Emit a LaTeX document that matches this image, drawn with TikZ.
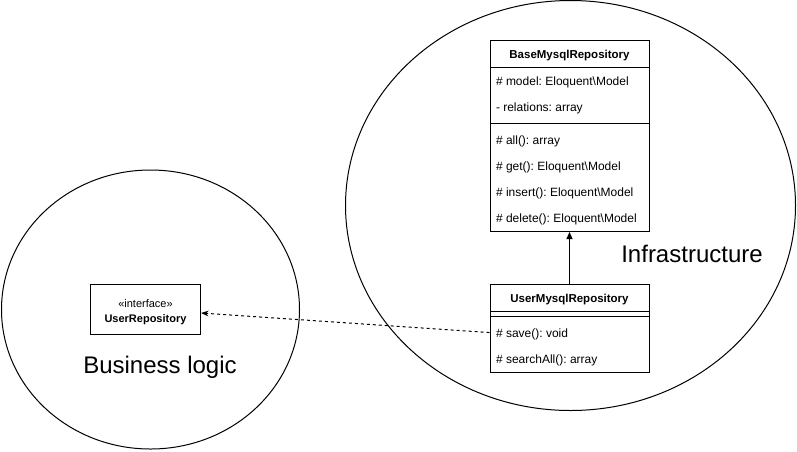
\documentclass[tikz,border=0pt]{standalone}
\usepackage{fontspec}
\setmainfont{Liberation Sans}
\usepackage{tikz}
\usetikzlibrary{arrows.meta,positioning,shapes.multipart}
\frenchspacing
\newcommand{\headrow}[1]{\rule[-7pt]{0pt}{22pt}\textbf{#1}}
\newcommand{\fieldrow}{\rule[-10pt]{0pt}{25pt}}
\newcommand{\methodrow}{\rule[-7pt]{0pt}{25pt}}
\newcommand{\nofields}{\rule{0pt}{0.1pt}\hspace*{1pt}}

\begin{document}
\begin{tikzpicture}[x=1pt,y=-1pt,>=Stealth,line width=1pt,
  classbox/.style={draw,rectangle split,rectangle split parts=3,minimum width=159pt,
    inner xsep=6pt,inner ysep=2pt,align=left,rectangle split part align={center,left,left},
    font=\fontsize{12}{26}\selectfont},
  ifacebox/.style={draw,minimum width=110pt,minimum height=50pt,align=center,font=\fontsize{11}{15}\selectfont},
  zone/.style={line width=1pt},
  zonelabel/.style={font=\fontsize{24}{28}\selectfont,inner sep=0pt},
  inherit/.style={-{Triangle[length=7pt,width=6pt]}},
  depends/.style={->,dash pattern=on 3pt off 3pt}]
\useasboundingbox (0,0) rectangle (797,451);
\draw[zone] (150.5,309.5) ellipse [x radius=149pt,y radius=139.5pt];
\draw[zone] (570.5,205.5) ellipse [x radius=225pt,y radius=205pt];
\node[zonelabel] (bizlabel) at (160,367) {Business logic};
\node[zonelabel] (infralabel) at (692,254) {Infrastructure};
\node[classbox,anchor=north] (base) at (569.5,40)
  {\headrow{\fontsize{11.5}{26}\selectfont BaseMysqlRepository}
   \nodepart{two}\fieldrow\# model: Eloquent\textbackslash Model\\
   \fieldrow- relations: array
   \nodepart{three}\methodrow\# all(): array\\
   \methodrow\# get(): Eloquent\textbackslash Model\\
   \methodrow\# insert(): Eloquent\textbackslash Model\\
   \methodrow\# delete(): Eloquent\textbackslash Model};
\node[classbox,below=52pt of base] (user)
  {\headrow{\fontsize{11.5}{26}\selectfont UserMysqlRepository}%
   \nodepart{two}\nofields
   \nodepart{three}\methodrow\# save(): void\\
   \methodrow\# searchAll(): array};
\node[ifacebox] (iface) at (145.5,309) {«interface»\rule{0pt}{14pt}\\\textbf{UserRepository}};
\draw[inherit] (user)--(base);
\draw[depends] ([yshift=-4pt]user.west)--([yshift=-4pt]iface.east);
\end{tikzpicture}
\end{document}
